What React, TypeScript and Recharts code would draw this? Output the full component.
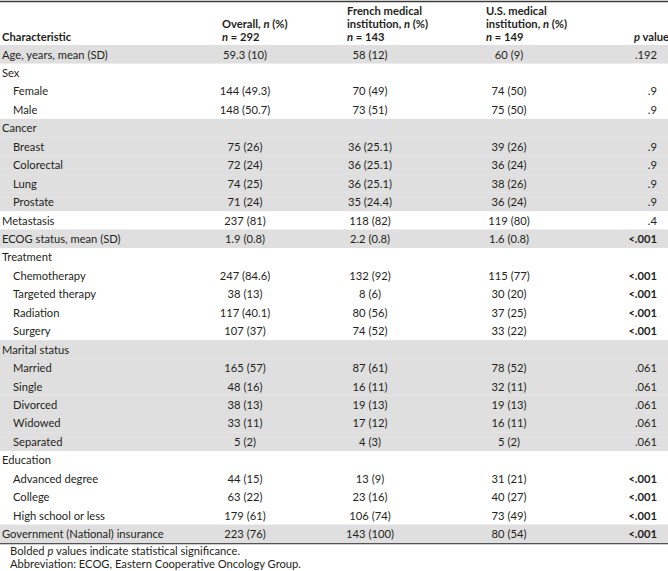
import React from "react";
import { BarChart, Bar, XAxis, YAxis, Customized } from "recharts";

// Table rows, top to bottom
const characteristic = [
  "Age, years, mean (SD)",
  "Sex",
  "Female",
  "Male",
  "Cancer",
  "Breast",
  "Colorectal",
  "Lung",
  "Prostate",
  "Metastasis",
  "ECOG status, mean (SD)",
  "Treatment",
  "Chemotherapy",
  "Targeted therapy",
  "Radiation",
  "Surgery",
  "Marital status",
  "Married",
  "Single",
  "Divorced",
  "Widowed",
  "Separated",
  "Education",
  "Advanced degree",
  "College",
  "High school or less",
  "Government (National) insurance",
];
// 0 = top-level characteristic, 1 = sub-item of the previous group
const level = [0, 0, 1, 1, 0, 1, 1, 1, 1, 0, 0, 0, 1, 1, 1, 1, 0, 1, 1, 1, 1, 1, 0, 1, 1, 1, 0];
const overall = [
  "59.3 (10)", "", "144 (49.3)", "148 (50.7)", "", "75 (26)", "72 (24)", "74 (25)", "71 (24)",
  "237 (81)", "1.9 (0.8)", "", "247 (84.6)", "38 (13)", "117 (40.1)", "107 (37)", "",
  "165 (57)", "48 (16)", "38 (13)", "33 (11)", "5 (2)", "", "44 (15)", "63 (22)", "179 (61)", "223 (76)",
];
const french = [
  "58 (12)", "", "70 (49)", "73 (51)", "", "36 (25.1)", "36 (25.1)", "36 (25.1)", "35 (24.4)",
  "118 (82)", "2.2 (0.8)", "", "132 (92)", "8 (6)", "80 (56)", "74 (52)", "",
  "87 (61)", "16 (11)", "19 (13)", "17 (12)", "4 (3)", "", "13 (9)", "23 (16)", "106 (74)", "143 (100)",
];
const us = [
  "60 (9)", "", "74 (50)", "75 (50)", "", "39 (26)", "36 (24)", "38 (26)", "36 (24)",
  "119 (80)", "1.6 (0.8)", "", "115 (77)", "30 (20)", "37 (25)", "33 (22)", "",
  "78 (52)", "32 (11)", "19 (13)", "16 (11)", "5 (2)", "", "31 (21)", "40 (27)", "73 (49)", "80 (54)",
];
const pValue = [
  ".192", "", ".9", ".9", "", ".9", ".9", ".9", ".9",
  ".4", "<.001", "", "<.001", "<.001", "<.001", "<.001", "",
  ".061", ".061", ".061", ".061", ".061", "", "<.001", "<.001", "<.001", "<.001",
];
const groupNames = ["Overall", "French medical", "U.S. medical"];
const groupSizes = [292, 143, 149];
const footnotes = [
  "Bolded p values indicate statistical significance.",
  "Abbreviation: ECOG, Eastern Cooperative Oncology Group.",
];

const FONT = "Lato, 'Open Sans', sans-serif";
const FS = 11.2;
const TEXT = "#231f20";
const SHADE = "#dfdfdf";
const RULE = "#3a3a3a";

const WIDTH = 668;
const HEIGHT = 571;
const BODY_TOP = 45;
const BODY_BOTTOM = 543;

// column anchors
const X_LABEL = 2;
const X_SUB = 13;
const X_OVERALL = 245;
const X_FRENCH = 370;
const X_US = 509;
const X_P = 657;
const HEAD_X = [222, 347, 486];

// alternate shading by top-level group
let groupIndex = -1;
const rows = characteristic.map((label, i) => {
  if (level[i] === 0) groupIndex += 1;
  return {
    label,
    level: level[i],
    overall: overall[i],
    french: french[i],
    us: us[i],
    p: pValue[i],
    shaded: groupIndex % 2 === 0,
    span: 1,
  };
});

function isSignificant(p: string) {
  if (!p) return false;
  if (p.startsWith("<")) return true;
  return parseFloat(p) < 0.05;
}

// one bar per row: draws the band shading and the row's cells
function RowShape(props: any) {
  const { y, height, index } = props;
  const row = rows[index];
  if (!row) return null;
  const cy = y + height / 2;
  const base = { fontFamily: FONT, fontSize: FS, fill: TEXT, dominantBaseline: "central" as const };
  return (
    <g>
      {row.shaded && <rect x={0} y={y} width={WIDTH} height={height + 0.6} fill={SHADE} />}
      <text {...base} x={row.level ? X_SUB : X_LABEL} y={cy} textAnchor="start">
        {row.label}
      </text>
      <text {...base} x={X_OVERALL} y={cy} textAnchor="middle">{row.overall}</text>
      <text {...base} x={X_FRENCH} y={cy} textAnchor="middle">{row.french}</text>
      <text {...base} x={X_US} y={cy} textAnchor="middle">{row.us}</text>
      <text {...base} x={X_P} y={cy} textAnchor="end" fontWeight={isSignificant(row.p) ? 700 : 400}>
        {row.p}
      </text>
    </g>
  );
}

function HeaderAndNotes() {
  const t = { fontFamily: FONT, fontSize: FS, fill: TEXT, fontWeight: 700 };
  return (
    <g>
      <line x1={0} x2={WIDTH} y1={1.5} y2={1.5} stroke={RULE} strokeWidth={1.5} />
      <line x1={0} x2={WIDTH} y1={BODY_BOTTOM + 0.5} y2={BODY_BOTTOM + 0.5} stroke={RULE} strokeWidth={1.5} />
      <text {...t} x={X_LABEL} y={41}>Characteristic</text>
      {groupNames.map((name, i) => {
        const x = HEAD_X[i];
        const lines = i === 0 ? [] : [name];
        const first = i === 0 ? name + "," : "institution,";
        return (
          <g key={name}>
            {lines.map((l) => (
              <text key={l} {...t} x={x} y={15}>{l}</text>
            ))}
            <text {...t} x={x} y={28}>
              {first} <tspan fontStyle="italic">n</tspan> (%)
            </text>
            <text {...t} x={x} y={41}>
              <tspan fontStyle="italic">n</tspan> = {groupSizes[i]}
            </text>
          </g>
        );
      })}
      <text {...t} x={WIDTH + 1} y={41} textAnchor="end">
        <tspan fontStyle="italic">p</tspan> value
      </text>
      {footnotes.map((note, i) => {
        const parts = note.split(" p ");
        return (
          <text key={i} fontFamily={FONT} fontSize={FS} fill={TEXT} x={10} y={555 + i * 13}>
            {parts.length > 1 ? (
              <>
                {parts[0]} <tspan fontStyle="italic">p</tspan> {parts[1]}
              </>
            ) : (
              note
            )}
          </text>
        );
      })}
    </g>
  );
}

export default function App() {
  return (
    <div style={{ position: "absolute", left: 0, top: 0, background: "#fff" }}>
      <BarChart
        width={WIDTH}
        height={HEIGHT}
        data={rows}
        layout="vertical"
        barCategoryGap={0}
        margin={{ top: BODY_TOP, right: 0, bottom: HEIGHT - BODY_BOTTOM, left: 0 }}
      >
        <XAxis type="number" domain={[0, 1]} hide />
        <YAxis type="category" dataKey="label" hide />
        <Bar dataKey="span" isAnimationActive={false} shape={RowShape} />
        <Customized component={HeaderAndNotes} />
      </BarChart>
    </div>
  );
}
